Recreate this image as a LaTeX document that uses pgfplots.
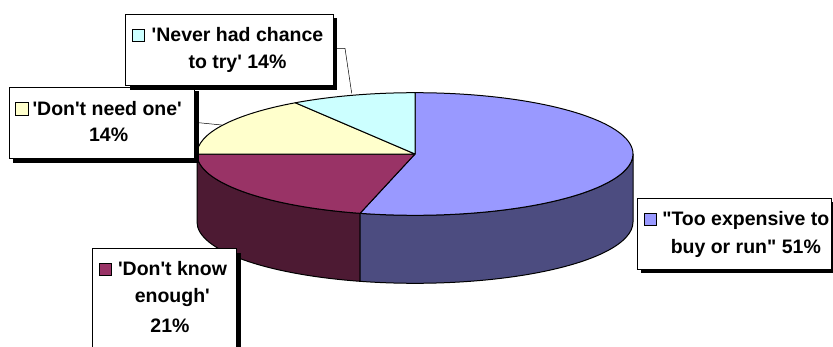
\documentclass[border=0pt]{standalone}
\usepackage{fontspec}
\newfontfamily\lblfont{Liberation Sans}
\usepackage{pgfplots}
\pgfplotsset{compat=1.18}
\definecolor{bluetop}{HTML}{9999FF}
\definecolor{blueside}{HTML}{4C4C80}
\definecolor{redtop}{HTML}{993366}
\definecolor{redside}{HTML}{4D1A33}
\definecolor{yellowtop}{HTML}{FFFFCC}
\definecolor{cyantop}{HTML}{CCFFFF}
% Slices (share in %, and the start/end angle at which each is drawn on the tilted disc)
% "Too expensive to buy or run" 51   : 90    -> -104.6
% 'Don't know enough'           21   : -104.6 -> -180
% 'Don't need one'              14   : 180   -> 123.3
% 'Never had chance to try'     14   : 123.3 -> 90
\tikzset{ell/.style={x radius=218pt,y radius=61.3pt},
  lbl/.style={anchor=base,font=\lblfont\bfseries\fontsize{19.5}{24}\selectfont,inner sep=0pt},
  key/.style={draw=black,line width=0.8pt},
  pie/.style={draw=black,line width=1pt,line join=round}}
\newcommand\side[3]{% start, end, colour
  \filldraw[pie,fill=#3] (axis cs:415,192) ++(#1:218pt and 61.3pt)
    arc[start angle=#1,end angle=#2,ell] -- ++(0,-68pt)
    arc[start angle=#2,end angle=#1,ell] -- cycle;}
\newcommand\topslice[3]{%
  \filldraw[pie,fill=#3] (axis cs:415,192) -- ++(#1:218pt and 61.3pt)
    arc[start angle=#1,end angle=#2,ell] -- cycle;}
\newcommand\labelbox[4]{% x1,y1,x2,y2
  \fill[black] (axis cs:#1+4,#2-4) rectangle (axis cs:#3+4,#4-4);
  \filldraw[fill=white,draw=black,line width=0.8pt] (axis cs:#1,#2) rectangle (axis cs:#3,#4);}
\begin{document}
\begin{tikzpicture}
\begin{axis}[x=1pt,y=1pt,xmin=0,xmax=833,ymin=0,ymax=346,hide axis,clip=false,
  at={(0,0)},anchor=south west]
% side walls
\side{-180}{-104.6}{redside}
\side{-104.6}{0}{blueside}
% top face
\topslice{90}{-104.6}{bluetop}
\topslice{-104.6}{-180}{redtop}
\topslice{180}{123.3}{yellowtop}
\topslice{123.3}{90}{cyantop}
% leader lines
\draw[black,line width=0.5pt] (axis cs:333,297.7) -- (axis cs:345,297.7) -- (axis cs:351.7,252.7);
\draw[black,line width=0.5pt] (axis cs:194.5,223.7) -- (axis cs:221.7,221);
% labels
\labelbox{9.3}{187.5}{194.5}{258.7}
\draw[key,fill=yellowtop] (axis cs:15.5,231) rectangle (axis cs:28,243.5);
\node[lbl] at (axis cs:107.2,231) {'Don't need one'};
\node[lbl] at (axis cs:108.6,204.3) {14\%};
\labelbox{125.5}{260.5}{333}{332}
\draw[key,fill=cyantop] (axis cs:132.5,304.3) rectangle (axis cs:144.5,316.5);
\node[lbl] at (axis cs:237.5,304.3) {'Never had chance};
\node[lbl] at (axis cs:237.5,277) {to try' 14\%};
\labelbox{92.3}{-10}{236.7}{97.3}
\draw[key,fill=redtop] (axis cs:99.5,71) rectangle (axis cs:111.5,83);
\node[lbl] at (axis cs:172.5,71) {'Don't know};
\node[lbl] at (axis cs:172.3,43.3) {enough'};
\node[lbl] at (axis cs:170,13.3) {21\%};
\labelbox{637}{77}{831}{148}
\draw[key,fill=bluetop] (axis cs:644,120.5) rectangle (axis cs:656.5,133);
\node[lbl] at (axis cs:745.8,121) {"Too expensive to};
\node[lbl] at (axis cs:745.8,92.7) {buy or run" 51\%};
\end{axis}
\pgfresetboundingbox
\useasboundingbox (0,0) rectangle (833pt,346pt);
\end{tikzpicture}
\end{document}
